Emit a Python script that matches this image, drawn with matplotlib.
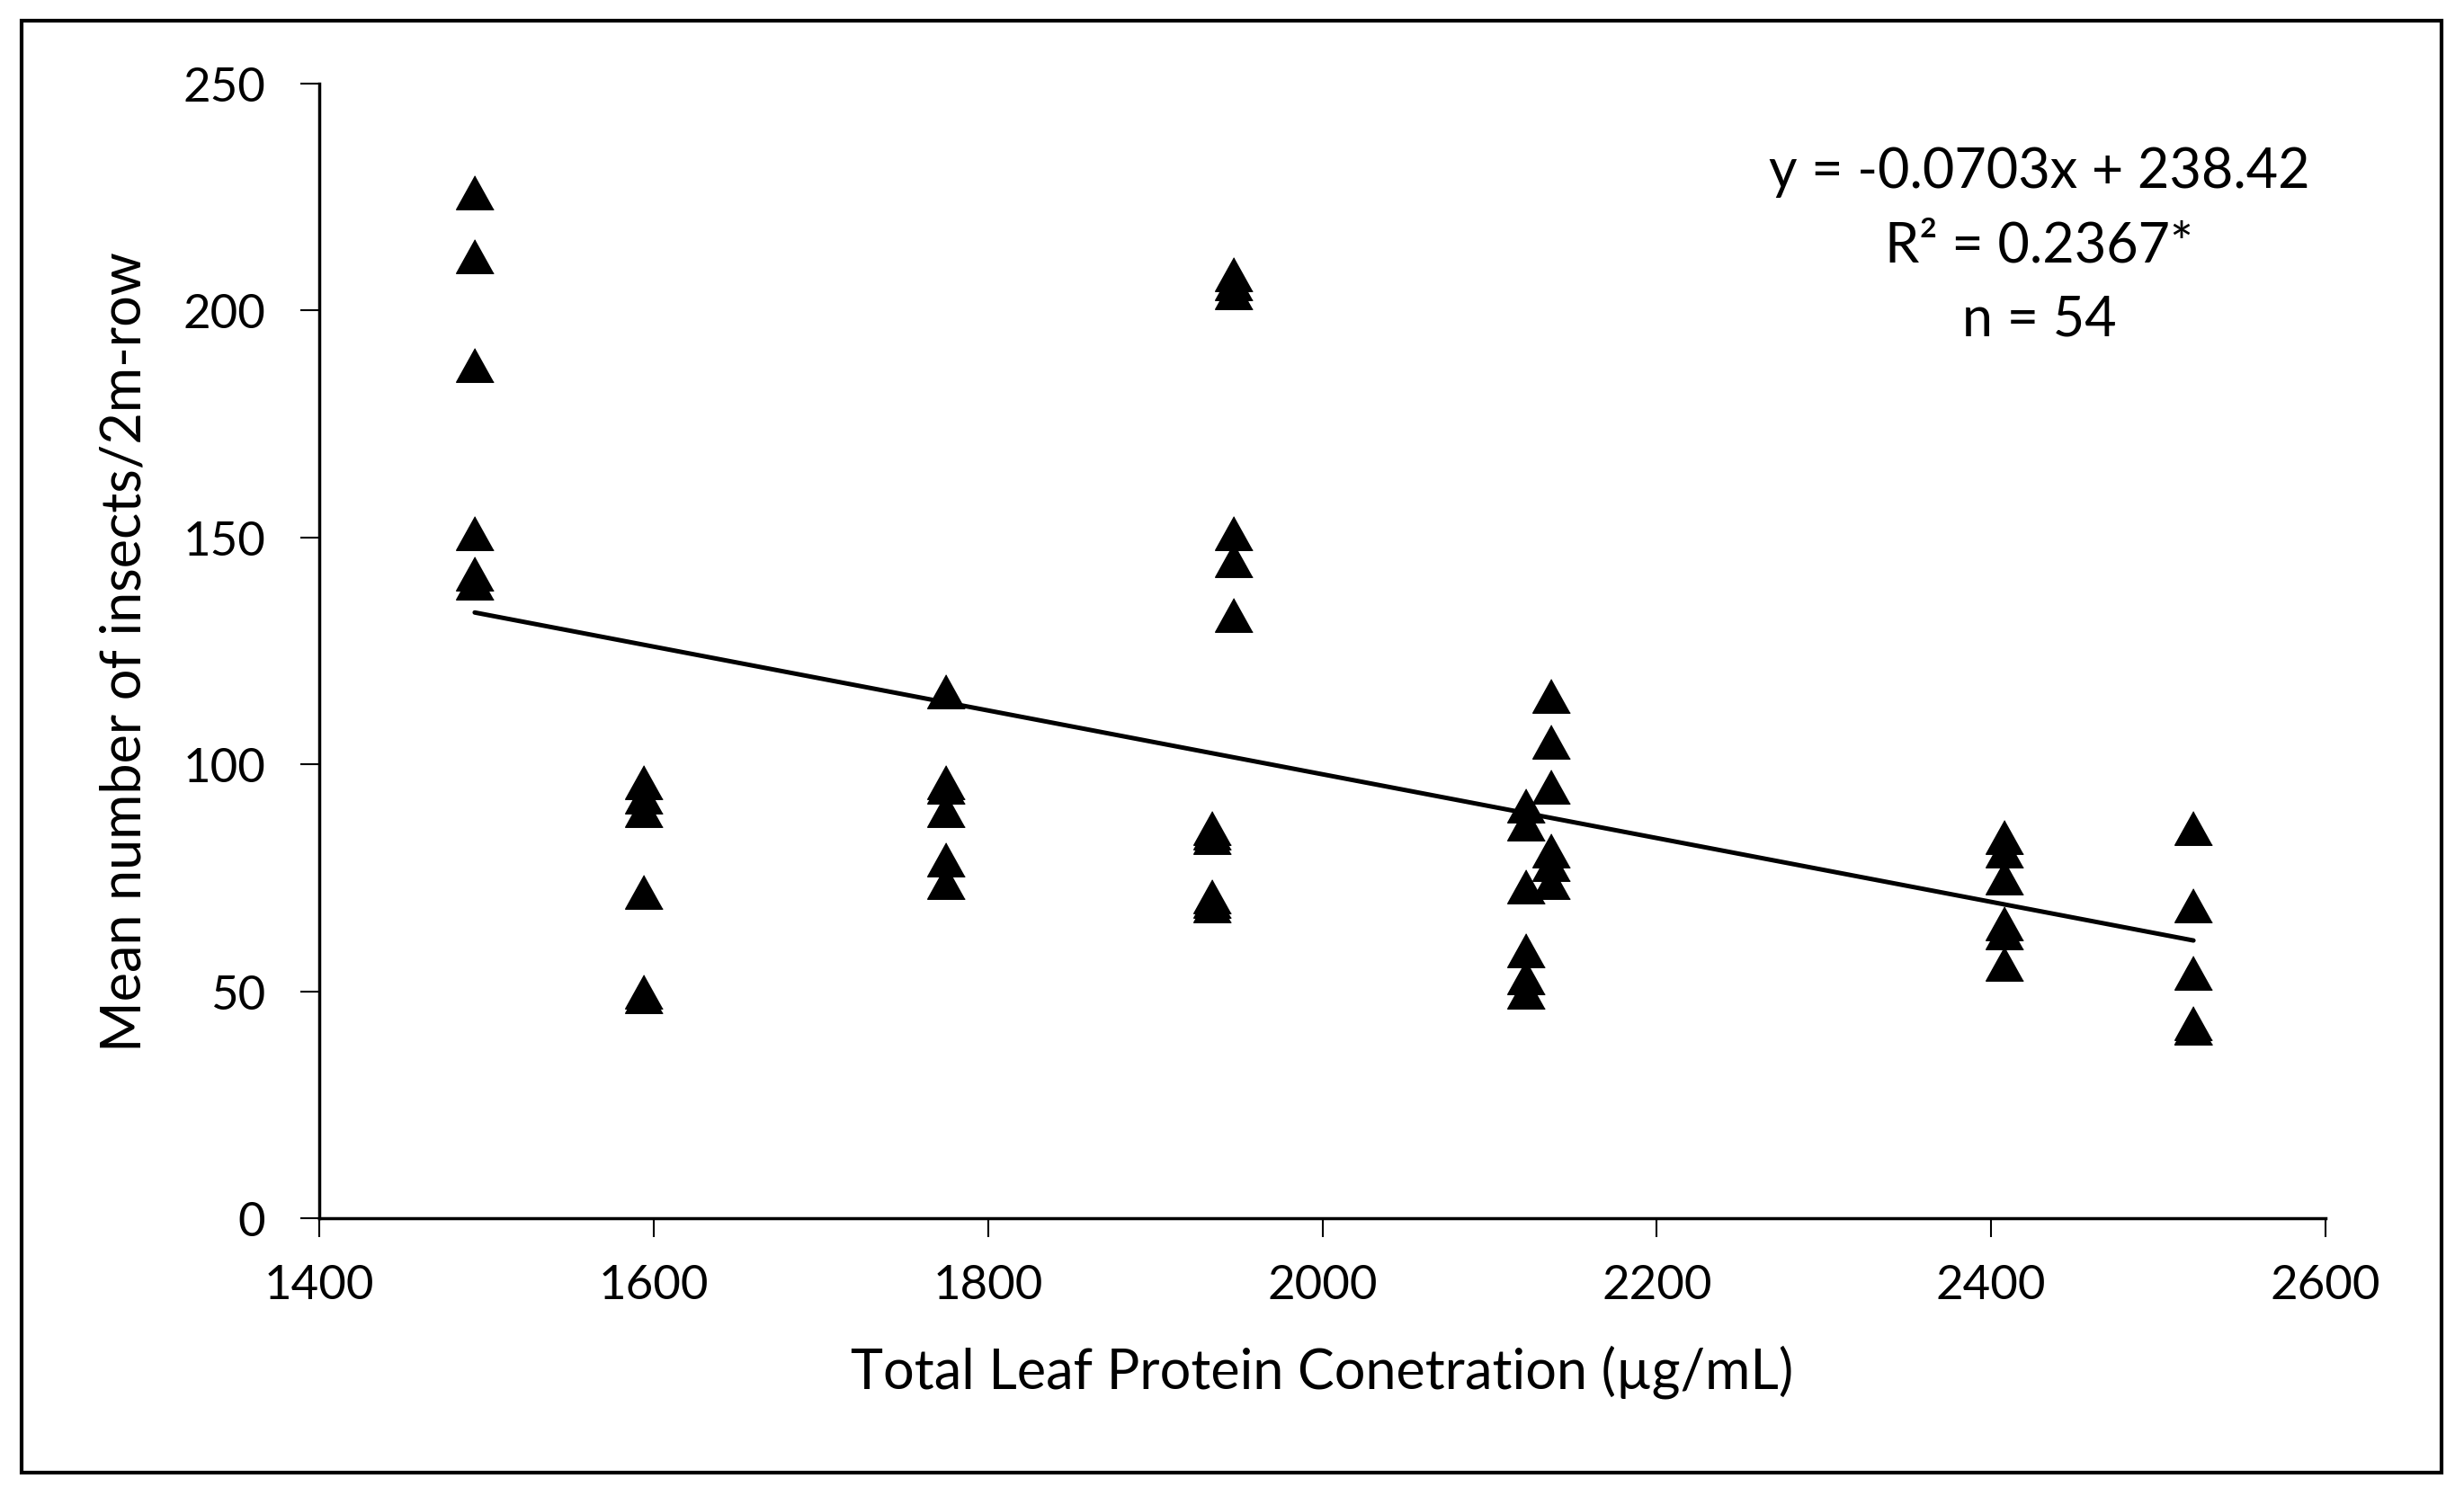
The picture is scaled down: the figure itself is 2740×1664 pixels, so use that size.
import matplotlib
matplotlib.use("Agg")
import matplotlib.pyplot as plt
from matplotlib.patches import Rectangle
import numpy as np

plt.rcParams['font.family'] = ['Lato', 'DejaVu Sans']

# Data
x_1493 = [1493] * 6
y_1493 = [226, 212, 188, 151, 142, 140]
x_1595 = [1594] * 6
y_1595 = [96, 93, 90, 72, 50, 49]
x_1775 = [1775] * 6
y_1775 = [116, 96, 95, 90, 79, 74]
x_1934 = [1934] * 6
y_1934 = [86, 85, 84, 71, 70, 69]
x_1947 = [1947] * 6
y_1947 = [208, 206, 204, 151, 145, 133]
x_2122 = [2122] * 6
y_2122 = [91, 87, 73, 59, 53, 50]
x_2137 = [2137] * 6
y_2137 = [115, 105, 95, 81, 78, 74]
x_2408 = [2408] * 6
y_2408 = [84, 81, 75, 65, 63, 56]
x_2521 = [2521] * 6
y_2521 = [86, 69, 54, 43, 42, 42]

xs = x_1493 + x_1595 + x_1775 + x_1934 + x_1947 + x_2122 + x_2137 + x_2408 + x_2521
ys = y_1493 + y_1595 + y_1775 + y_1934 + y_1947 + y_2122 + y_2137 + y_2408 + y_2521

slope = -0.0703
intercept = 238.42

x_ticks = [1400, 1600, 1800, 2000, 2200, 2400, 2600]
y_ticks = [0, 50, 100, 150, 200, 250]

fig = plt.figure(figsize=(27.4, 16.65), dpi=100)
ax = fig.add_axes([355/2740, 1 - 1356/1665, (2586-355)/2740, (1356-94)/1665])

tri = [(0, 0.9), (-1, -0.9), (1, -0.9)]
ax.plot(xs, ys, linestyle='none', marker=tri, markersize=30, color='black')

xl = np.array([min(xs), max(xs)])
ax.plot(xl, slope * xl + intercept, color='black', linewidth=3.6, solid_capstyle='round')

ax.set_xlim(1400, 2600)
ax.set_ylim(0, 250)
ax.set_xticks(x_ticks)
ax.set_yticks(y_ticks)
ax.tick_params(axis='both', direction='out', length=15, width=1.5, labelsize=38, color='black')
ax.tick_params(axis='x', pad=22)
ax.tick_params(axis='y', pad=28)
for s in ['top', 'right']:
    ax.spines[s].set_visible(False)
for s in ['left', 'bottom']:
    ax.spines[s].set_linewidth(2.5)

ax.set_xlabel('Total Leaf Protein Conetration (\u00b5g/mL)', fontsize=44, labelpad=30)
ax.set_ylabel('Mean number of insects/2m-row', fontsize=44, labelpad=26)

fig.text(2268/2740, 1 - 192/1665, 'y = -0.0703x + 238.42', fontsize=44, ha='center', va='center')
fig.text(2268/2740, 1 - 274/1665, 'R\u00b2 = 0.2367*', fontsize=44, ha='center', va='center')
fig.text(2268/2740, 1 - 356/1665, 'n = 54', fontsize=44, ha='center', va='center')

fig.patches.append(Rectangle((24/2740, 1 - 1639/1665), (2715-24)/2740, (1639-24)/1665,
                             transform=fig.transFigure, fill=False, edgecolor='black', linewidth=3))

fig.savefig('out.png', dpi=100)
